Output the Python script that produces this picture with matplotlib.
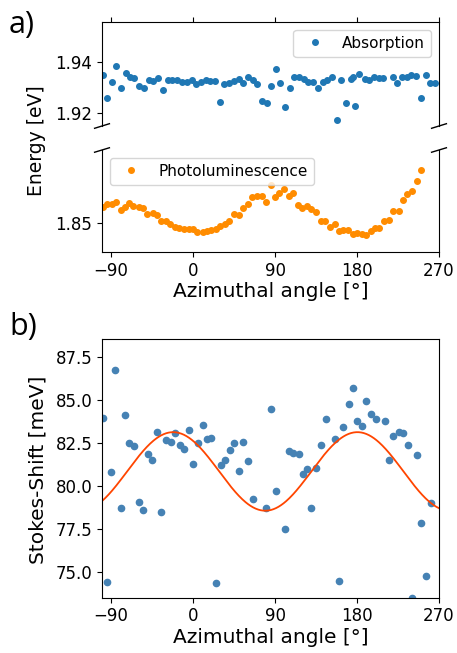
import numpy as np
import matplotlib
matplotlib.use("Agg")
import matplotlib.pyplot as plt

# ---------------- data ----------------
abs_angle = [-99.3, -94.9, -89.0, -84.3, -79.1, -74.0, -69.3, -64.5, -59.0, -53.5,
             -48.8, -43.6, -38.1, -33.4, -27.9, -22.8, -17.3, -12.2, -7.0, -1.5,
             3.2, 8.3, 13.8, 19.0, 24.1, 29.6, 34.3, 39.5, 44.9, 50.1,
             54.5, 60.3, 65.4, 70.6, 75.7, 80.8, 85.9, 90.7, 95.5, 101.3,
             106.4, 111.2, 116.3, 121.4, 126.6, 131.3, 136.8, 142.3, 147.4, 152.6,
             157.7, 162.8, 167.9, 173.1, 176.0, 178.2, 182.6, 188.8, 193.6, 198.7,
             203.8, 208.9, 219.2, 224.3, 229.4, 234.6, 239.7, 244.8, 250.3, 255.4,
             260.2, 265.3]
abs_energy = [1.9350, 1.9256, 1.9320, 1.9383, 1.9298, 1.9354, 1.9339, 1.9336, 1.9303, 1.9298,
              1.9327, 1.9324, 1.9337, 1.9288, 1.9329, 1.9328, 1.9328, 1.9322, 1.9319, 1.9329,
              1.9311, 1.9320, 1.9329, 1.9323, 1.9323, 1.9242, 1.9311, 1.9315, 1.9323, 1.9332,
              1.9316, 1.9339, 1.9329, 1.9311, 1.9246, 1.9237, 1.9305, 1.9370, 1.9316, 1.9224,
              1.9298, 1.9339, 1.9341, 1.9331, 1.9319, 1.9322, 1.9298, 1.9322, 1.9329, 1.9342,
              1.9171, 1.9327, 1.9239, 1.9332, 1.9339, 1.9226, 1.9352, 1.9331, 1.9328, 1.9341,
              1.9336, 1.9336, 1.9339, 1.9318, 1.9339, 1.9341, 1.9348, 1.9344, 1.9259, 1.9350,
              1.9316, 1.9318]

pl_angle = [-98.5, -94.9, -89.4, -84.6, -79.5, -75.1, -70.0, -65.6, -59.7, -54.6,
            -50.2, -44.4, -40.0, -35.6, -29.7, -25.3, -19.8, -15.1, -10.0, -4.8,
            0.3, 4.7, 10.5, 14.9, 20.1, 25.2, 29.6, 34.7, 39.1, 44.9,
            50.1, 54.5, 60.3, 64.7, 70.6, 75.7, 80.1, 85.2, 90.3, 94.7,
            99.9, 105.0, 110.1, 115.2, 119.6, 124.7, 129.9, 135.0, 140.1, 145.2,
            150.4, 155.5, 159.9, 165.0, 170.1, 176.0, 179.6, 185.5, 189.9, 195.0,
            200.1, 204.5, 209.7, 214.8, 219.2, 225.8, 230.9, 235.3, 240.4, 245.5,
            249.9]
pl_energy = [1.8565, 1.8576, 1.8575, 1.8582, 1.8552, 1.8565, 1.8581, 1.8568, 1.8565, 1.8561,
             1.8537, 1.8539, 1.8531, 1.8510, 1.8508, 1.8497, 1.8484, 1.8482, 1.8479, 1.8479,
             1.8479, 1.8467, 1.8465, 1.8471, 1.8474, 1.8476, 1.8490, 1.8497, 1.8509, 1.8537,
             1.8534, 1.8558, 1.8576, 1.8602, 1.8605, 1.8605, 1.8585, 1.8648, 1.8602, 1.8618,
             1.8633, 1.8605, 1.8620, 1.8571, 1.8560, 1.8568, 1.8556, 1.8542, 1.8510, 1.8510,
             1.8487, 1.8496, 1.8469, 1.8474, 1.8474, 1.8458, 1.8463, 1.8458, 1.8454, 1.8471,
             1.8483, 1.8482, 1.8508, 1.8513, 1.8548, 1.8548, 1.8589, 1.8615, 1.8627, 1.8667,
             1.8710]

ss_angle = [-99.3, -94.9, -89.8, -85.4, -79.5, -74.4, -70.0, -64.9, -59.7, -54.6,
            -49.5, -44.7, -39.6, -35.2, -30.1, -24.6, -19.5, -14.3, -9.6, -4.8,
            0.3, 5.4, 10.5, 14.9, 20.1, 25.2, 30.3, 35.4, 40.6, 45.3,
            50.1, 55.2, 60.7, 65.4, 80.1, 85.9, 90.7, 100.6, 105.0, 110.1,
            116.0, 120.4, 125.5, 129.9, 135.0, 140.8, 146.0, 155.5, 159.9, 165.0,
            170.9, 176.0, 180.4, 185.5, 189.9, 195.0, 200.9, 210.4, 215.5, 219.9,
            225.8, 230.9, 236.0, 240.4, 245.5, 250.7, 255.8, 260.9]
ss_mev = [83.91, 74.44, 80.82, 86.69, 78.73, 84.09, 82.50, 82.29, 79.06, 78.60,
          81.82, 81.51, 83.10, 78.48, 82.64, 82.54, 83.04, 82.36, 82.11, 83.25,
          81.25, 82.46, 83.52, 82.71, 82.75, 74.34, 81.21, 81.51, 82.06, 82.50,
          80.88, 82.54, 81.46, 79.23, 78.73, 84.44, 79.72, 77.48, 82.00, 81.88,
          81.84, 80.68, 80.95, 78.73, 81.05, 82.36, 83.87, 82.71, 74.48, 83.43,
          84.76, 85.67, 83.76, 83.49, 84.90, 84.18, 83.87, 83.78, 81.51, 82.90,
          83.10, 83.06, 82.36, 73.51, 81.77, 77.86, 74.75, 78.98]

# sinusoidal fit parameters (offset, amplitude, phase of maximum, period)
fit_offset = 80.83
fit_amp = 2.28
fit_peak = 180.4
fit_period = 202.3

xticks = [-90, 0, 90, 180, 270]

# ---------------- figure ----------------
W, H = 457, 653
fig = plt.figure(figsize=(W / 100, H / 100), dpi=100)

def box(l, t, r, b):
    return [l / W, 1 - b / H, (r - l) / W, (b - t) / H]

ax_up = fig.add_axes(box(102, 22, 439, 126))
ax_lo = fig.add_axes(box(102, 150, 439, 252))
ax_b = fig.add_axes(box(102, 339.3, 439, 597.7))

tick_fs = 12
lab_fs = 14.5

ax_up.plot(abs_angle, abs_energy, 'o', color='#1f77b4', ms=4.0, label='Absorption')
ax_lo.plot(pl_angle, pl_energy, 'o', color='#ff8c00', ms=4.0, label='Photoluminescence')

ax_up.set_ylim(1.9148, 1.9556)
ax_lo.set_ylim(1.8387, 1.8787)
ax_up.set_yticks([1.92, 1.94])
ax_lo.set_yticks([1.85])
for a in (ax_up, ax_lo, ax_b):
    a.set_xlim(-100, 270)
    a.set_xticks(xticks)
    a.tick_params(labelsize=tick_fs)

ax_up.spines['bottom'].set_visible(False)
ax_lo.spines['top'].set_visible(False)
ax_up.xaxis.tick_top()
ax_up.tick_params(labeltop=False)
ax_lo.xaxis.tick_bottom()

# broken-axis diagonal marks (in axes coordinates)
d = 0.022
kw = dict(transform=ax_up.transAxes, color='k', clip_on=False, lw=1)
ax_up.plot((-d, +d), (-d, +d), **kw)
ax_up.plot((1 - d, 1 + d), (-d, +d), **kw)
kw.update(transform=ax_lo.transAxes)
ax_lo.plot((-d, +d), (1 - d, 1 + d), **kw)
ax_lo.plot((1 - d, 1 + d), (1 - d, 1 + d), **kw)

ax_up.legend(loc='upper right', fontsize=11, numpoints=1)
ax_lo.legend(loc='upper left', fontsize=11, numpoints=1)
ax_lo.set_xlabel('Azimuthal angle [°]', fontsize=lab_fs, labelpad=2)
fig.text(37 / W, 1 - 141 / H, 'Energy [eV]', rotation=90, ha='center', va='center', fontsize=13.5)

# bottom panel
ax_b.plot(ss_angle, ss_mev, 'o', color='steelblue', ms=4.5)
xf = np.linspace(-100, 270, 400)
yf = fit_offset + fit_amp * np.cos(2 * np.pi * (xf - fit_peak) / fit_period)
ax_b.plot(xf, yf, color='orangered', lw=1.3)
ax_b.set_ylim(73.5, 88.5)
ax_b.set_yticks([75.0, 77.5, 80.0, 82.5, 85.0, 87.5])
ax_b.set_xlabel('Azimuthal angle [°]', fontsize=lab_fs, labelpad=2)
fig.text(38 / W, 1 - 470 / H, 'Stokes-Shift [meV]', rotation=90, ha='center', va='center', fontsize=lab_fs)

panel_font = ['Open Sans', 'DejaVu Sans']
fig.text(9 / W, 1 - 33 / H, 'a)', fontsize=22, family=panel_font, va='baseline', ha='left')
fig.text(9 / W, 1 - 335 / H, 'b)', fontsize=22, family=panel_font, va='baseline', ha='left')

fig.savefig('out.png', dpi=100)
